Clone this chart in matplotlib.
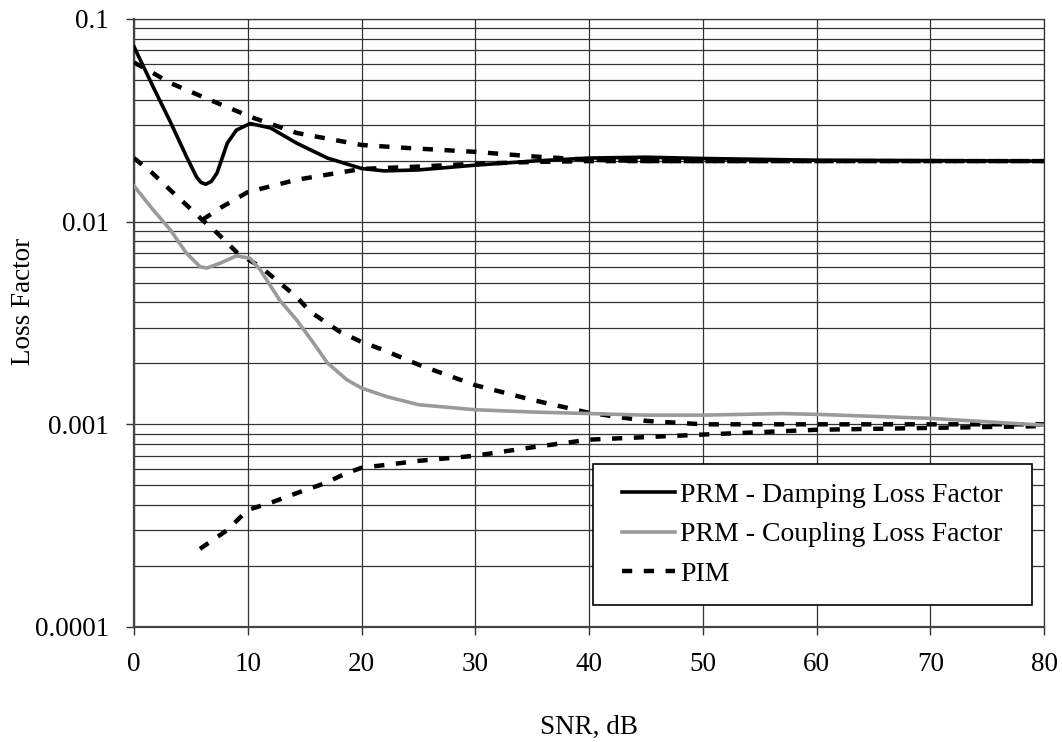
import matplotlib
matplotlib.use("Agg")
import matplotlib.pyplot as plt
from matplotlib.patches import Rectangle
from matplotlib.ticker import LogLocator, FixedLocator, NullFormatter

plt.rcParams['font.family'] = ['Liberation Serif', 'DejaVu Serif']

# PRM - damping loss factor
snr_damp = [0, 1.7, 3.2, 4.6, 5.5, 5.9, 6.3, 6.8, 7.3, 8.2, 9.0, 10.2, 12, 14.3, 17,
            20, 22, 25, 30, 35, 40, 45, 50, 60, 70, 80]
prm_damp = [0.073, 0.046, 0.031, 0.021, 0.0166, 0.0156, 0.0153, 0.0158, 0.0174, 0.0244,
            0.0283, 0.0305, 0.029, 0.0244, 0.0206, 0.0183, 0.0178, 0.018, 0.019, 0.0199,
            0.0206, 0.0208, 0.0205, 0.0201, 0.02, 0.0199]

# PRM - coupling loss factor
snr_coup = [0, 1.7, 3.2, 4.6, 5.8, 6.4, 7.6, 9.0, 10.2, 11.1, 12.8, 14.3, 15.8, 17,
            18.7, 20, 22.2, 25, 30, 35, 40, 45, 50, 57, 60, 70, 80]
prm_coup = [0.015, 0.0114, 0.0091, 0.0070, 0.0060, 0.0059, 0.00625, 0.00678, 0.0066,
            0.00578, 0.0041, 0.00327, 0.00251, 0.00201, 0.00166, 0.00151, 0.00137,
            0.00125, 0.00118, 0.00115, 0.00113, 0.00111, 0.00111, 0.00113, 0.00112,
            0.00107, 0.00099]

# PIM bounds (damping)
snr_pim_du = [0, 1.7, 3.2, 6.7, 10.5, 14.3, 20, 24, 30, 35, 40, 45, 50, 60, 70, 80]
pim_du = [0.061, 0.054, 0.0483, 0.0398, 0.0325, 0.0274, 0.0239, 0.0231, 0.0221, 0.021,
          0.0202, 0.0199, 0.0199, 0.0199, 0.0199, 0.0199]
snr_pim_dl = [6, 7.6, 10, 14.3, 20, 25, 30, 35, 40, 50, 60, 70, 80]
pim_dl = [0.0102, 0.0117, 0.014, 0.0161, 0.0182, 0.0187, 0.0193, 0.0197, 0.0199, 0.0199,
          0.0199, 0.0199, 0.0199]

# PIM bounds (coupling)
snr_pim_cu = [0, 1.6, 3.2, 4.6, 6, 7.3, 9.1, 11.1, 14.3, 15.5, 18.1, 20, 21.9, 25.1,
              30, 35, 40, 45, 50, 60, 70, 80]
pim_cu = [0.0206, 0.0174, 0.0143, 0.0121, 0.0102, 0.0088, 0.0070, 0.0060, 0.00425,
          0.00359, 0.00286, 0.00255, 0.00233, 0.00196, 0.00156, 0.00132, 0.00114,
          0.00104, 0.00100, 0.00100, 0.00100, 0.00100]
snr_pim_cl = [5.8, 8.2, 10, 12.2, 14.6, 16.7, 18.7, 20, 25, 30, 35, 40, 50, 60, 70, 80]
pim_cl = [0.000243, 0.000301, 0.000378, 0.000414, 0.000464, 0.00051, 0.000575, 0.00061,
          0.00066, 0.0007, 0.00077, 0.00084, 0.00089, 0.00094, 0.00096, 0.00098]

x_ticks = [0, 10, 20, 30, 40, 50, 60, 70, 80]
y_ticks = [0.0001, 0.001, 0.01, 0.1]
y_labels = ['0.0001', '0.001', '0.01', '0.1']

fs = 19.5
fig = plt.figure(figsize=(10.62, 7.42), dpi=100)
ax = fig.add_axes([0.1262, 0.155, 0.8569, 0.8194])

ax.set_yscale('log')
ax.set_xlim(0, 80)
ax.set_ylim(1e-4, 0.1)

pim_style = dict(color='black', lw=3.2, dashes=(2.3, 2.6), dash_capstyle='butt')
ax.plot(snr_pim_du, pim_du, **pim_style, zorder=3)
ax.plot(snr_pim_dl, pim_dl, **pim_style, zorder=3)
ax.plot(snr_pim_cu, pim_cu, **pim_style, zorder=3)
ax.plot(snr_pim_cl, pim_cl, **pim_style, zorder=3, label='PIM')
ax.plot(snr_damp, prm_damp, color='black', lw=2.6, zorder=4,
        label='PRM - Damping Loss Factor')
ax.plot(snr_coup, prm_coup, color='#9a9a9a', lw=2.6, zorder=4,
        label='PRM - Coupling Loss Factor')

ax.xaxis.set_major_locator(FixedLocator(x_ticks))
ax.yaxis.set_major_locator(FixedLocator(y_ticks))
ax.set_yticklabels(y_labels)
ax.yaxis.set_minor_locator(LogLocator(base=10, subs=range(2, 10)))
ax.yaxis.set_minor_formatter(NullFormatter())

ax.grid(True, which='major', axis='both', color='#333333', lw=0.9, zorder=1)
ax.grid(True, which='minor', axis='y', color='#333333', lw=0.9, zorder=1)
ax.set_axisbelow(True)

ax.tick_params(axis='both', which='major', direction='out', length=6, width=1,
               color='#333333', labelsize=fs)
ax.tick_params(axis='x', pad=12)
ax.tick_params(axis='y', pad=12)
ax.tick_params(axis='y', which='minor', length=0)

for side in ['left', 'bottom']:
    ax.spines[side].set_color('#444444')
    ax.spines[side].set_linewidth(1.6)
for side in ['top', 'right']:
    ax.spines[side].set_color('#333333')
    ax.spines[side].set_linewidth(0.9)

ax.set_xlabel('SNR, dB', fontsize=fs, labelpad=27)
ax.set_ylabel('Loss Factor', fontsize=fs, labelpad=-1, y=0.536)

# legend box
ax.add_patch(Rectangle((0.504, 0.036), 0.483, 0.232, transform=ax.transAxes,
                       facecolor='white', edgecolor='black', lw=1.2, zorder=6))
h, l = ax.get_legend_handles_labels()
order = [1, 2, 0]
leg = ax.legend([h[i] for i in order], [l[i] for i in order], loc='center',
                bbox_to_anchor=(0.7456, 0.152), frameon=False, fontsize=20,
                handlelength=1.9, handletextpad=0.2, labelspacing=0.5)
leg.set_zorder(7)

fig.savefig('out.png', dpi=100)
